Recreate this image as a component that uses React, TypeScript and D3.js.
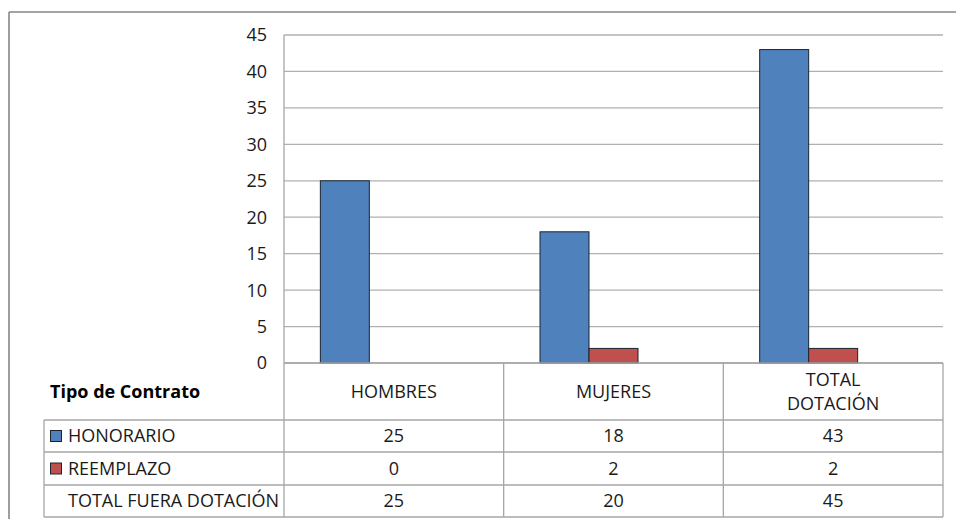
import React from "react";
import * as d3 from "d3";

const categories = ["HOMBRES", "MUJERES", "TOTAL DOTACIÓN"];
const categoryLines = [["HOMBRES"], ["MUJERES"], ["TOTAL", "DOTACIÓN"]];
const seriesNames = ["HONORARIO", "REEMPLAZO", "TOTAL FUERA DOTACIÓN"];
const honorario = [25, 18, 43];
const reemplazo = [0, 2, 2];
const totalFuera = [25, 20, 45];
const yTicks = [0, 5, 10, 15, 20, 25, 30, 35, 40, 45];
const colors = ["#4F81BD", "#C0504D"];
const tableTitle = "Tipo de Contrato";

const W = 956;
const H = 519;
const FONT = "'Open Sans', 'Noto Sans', sans-serif";

export default function App() {
  const plotLeft = 284;
  const plotRight = 943;
  const yTop = 35;
  const yZero = 363;
  const x = d3.scaleBand<string>().domain(categories).range([plotLeft, plotRight]).paddingInner(0).paddingOuter(0);
  const xs = d3.scaleBand<string>().domain(seriesNames).range([0, x.bandwidth()]).paddingInner(0).paddingOuter(0.742);
  const y = d3.scaleLinear().domain([0, 45]).range([yZero, yTop]);
  // only the first two series are drawn as bars; the total series has no fill
  const barSeries = [honorario, reemplazo];

  const rowY = [363, 420, 452, 485, 517];
  const tableLeft = 44;
  const lineColor = "#A6A6A6";
  const fs = 18;

  const rows = [
    { label: seriesNames[0], values: honorario, color: colors[0] as string | null },
    { label: seriesNames[1], values: reemplazo, color: colors[1] as string | null },
    { label: seriesNames[2], values: totalFuera, color: null as string | null },
  ];

  return (
    <svg
      width={W}
      height={H}
      style={{ position: "absolute", left: 0, top: 0, background: "#fff" }}
      fontFamily={FONT}
    >
      <rect x={0} y={0} width={W} height={H} fill="#fff" />
      {/* outer frame */}
      <line x1={9} y1={12} x2={W} y2={12} stroke="#868686" strokeWidth={1.6} />
      <line x1={9} y1={12} x2={9} y2={H} stroke="#868686" strokeWidth={1.6} />

      {/* gridlines */}
      {yTicks.map((t) => (
        <line key={"g" + t} x1={plotLeft} x2={plotRight} y1={y(t)} y2={y(t)} stroke="#B0B0B0" strokeWidth={1.3} />
      ))}
      {/* y tick labels */}
      {yTicks.map((t) => (
        <text key={"t" + t} x={267} y={y(t)} dy="0.36em" textAnchor="end" fontSize={fs} fill="#1a1a1a">
          {t}
        </text>
      ))}

      {/* bars */}
      {barSeries.map((vals, si) =>
        categories.map((c, ci) => {
          const v = vals[ci];
          if (v === 0) return null;
          const bx = (x(c) as number) + (xs(seriesNames[si]) as number);
          return (
            <rect
              key={si + "-" + ci}
              x={bx}
              y={y(v)}
              width={xs.bandwidth()}
              height={yZero - y(v)}
              fill={colors[si]}
              stroke="#1c2430"
              strokeWidth={1}
            />
          );
        })
      )}

      {/* table lines */}
      <line x1={plotLeft} x2={plotLeft} y1={yTop} y2={rowY[4]} stroke={lineColor} strokeWidth={1.3} />
      {categories.map((c) => (
        <line
          key={"v" + c}
          x1={(x(c) as number) + x.bandwidth()}
          x2={(x(c) as number) + x.bandwidth()}
          y1={rowY[0]}
          y2={rowY[4]}
          stroke={lineColor}
          strokeWidth={1.3}
        />
      ))}
      <line x1={plotLeft} x2={plotRight} y1={rowY[0]} y2={rowY[0]} stroke={lineColor} strokeWidth={1.3} />
      {rowY.slice(1).map((ry) => (
        <line key={"h" + ry} x1={tableLeft} x2={plotRight} y1={ry} y2={ry} stroke={lineColor} strokeWidth={1.3} />
      ))}
      <line x1={tableLeft} x2={tableLeft} y1={rowY[1]} y2={rowY[4]} stroke={lineColor} strokeWidth={1.3} />

      {/* header */}
      <text x={50} y={(rowY[0] + rowY[1]) / 2} dy="0.36em" fontSize={fs} fontWeight="bold" fill="#000">
        {tableTitle}
      </text>
      {categories.map((c, ci) => {
        const lines = categoryLines[ci];
        const cx = (x(c) as number) + x.bandwidth() / 2;
        const mid = (rowY[0] + rowY[1]) / 2;
        const lh = 24;
        return (
          <text key={"c" + c} x={cx} textAnchor="middle" fontSize={fs} fill="#1a1a1a">
            {lines.map((l, li) => (
              <tspan key={li} x={cx} y={mid + (li - (lines.length - 1) / 2) * lh} dy="0.36em">
                {l}
              </tspan>
            ))}
          </text>
        );
      })}

      {/* rows */}
      {rows.map((r, ri) => {
        const cy = (rowY[ri + 1] + rowY[ri + 2]) / 2;
        return (
          <g key={"r" + ri}>
            {r.color && (
              <rect x={50.5} y={cy - 5.5} width={11} height={11} fill={r.color} stroke="#1c2430" strokeWidth={1} />
            )}
            <text x={68} y={cy} dy="0.36em" fontSize={fs} fill="#1a1a1a">
              {r.label}
            </text>
            {categories.map((c, ci) => (
              <text
                key={c}
                x={(x(c) as number) + x.bandwidth() / 2}
                y={cy}
                dy="0.36em"
                textAnchor="middle"
                fontSize={fs}
                fill="#1a1a1a"
              >
                {r.values[ci]}
              </text>
            ))}
          </g>
        );
      })}
    </svg>
  );
}
